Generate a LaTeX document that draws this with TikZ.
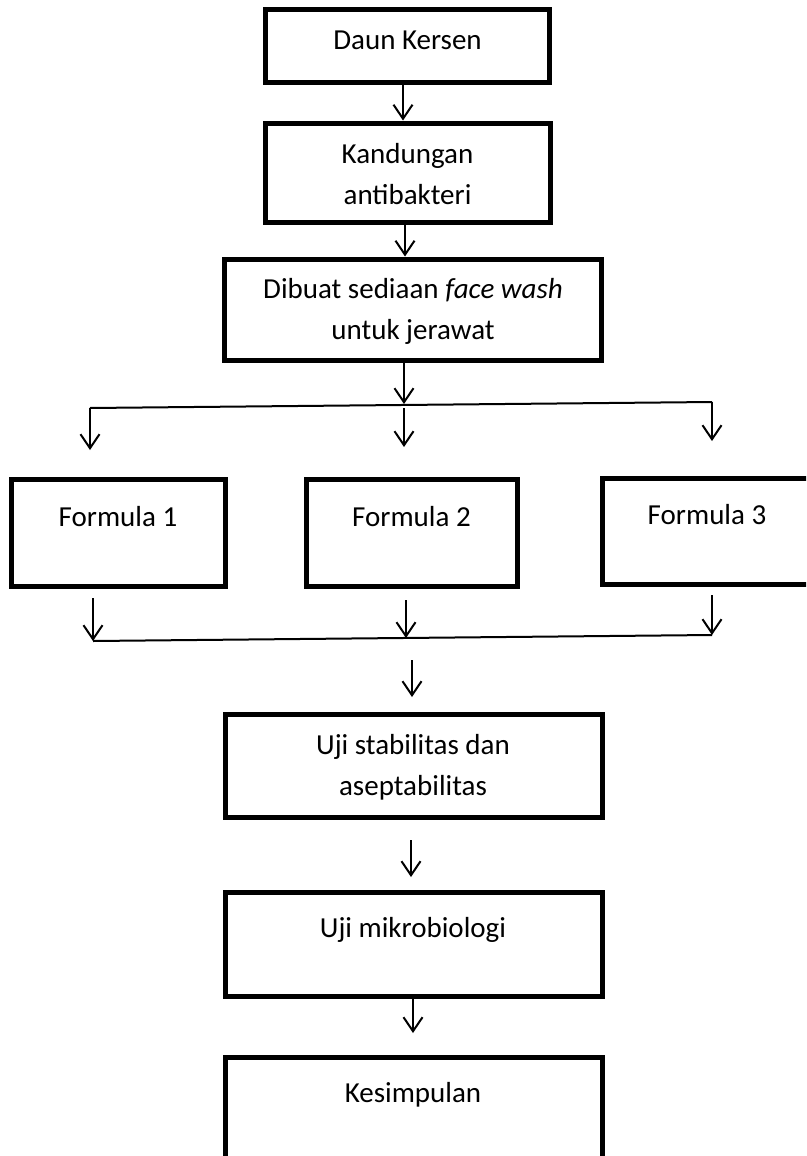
\documentclass[tikz,border=0pt]{standalone}
\usepackage{fontspec}
\setmainfont{Carlito}
\usetikzlibrary{arrows.meta}
\begin{document}
\begin{tikzpicture}[x=1pt,y=-1pt,
    box/.style={draw,line width=5pt,inner sep=0pt},
    txt/.style={anchor=base,align=center,inner sep=0pt,
        font=\fontsize{29}{41}\selectfont},
    flow/.style={line width=2pt,-{Straight Barb[length=14pt,width=19pt]}},
    bar/.style={line width=2pt}]
    \useasboundingbox (0,0) rectangle (806,1156);
    \clip (0,0) rectangle (806,1156);
    % upper chain
    \node[box,minimum width=284pt,minimum height=72pt] (daun) at (407,46) {};
    \node[txt] (tdaun) at (407.5,50) {Daun Kersen};
    \node[box,minimum width=285pt,minimum height=99pt] (kandungan) at (407.5,172.5) {};
    \node[txt] (tkandungan) at (407.5,204) {Kandungan\\antibakteri};
    \node[box,minimum width=377pt,minimum height=101pt] (sediaan) at (412.5,309.5) {};
    \node[txt] (tsediaan) at (413,339) {Dibuat sediaan \textit{face wash}\\untuk jerawat};
    \draw[flow] (daun.south -| 403,0) -- (kandungan.north -| 403,0);
    \draw[flow] (kandungan.south -| 405,0) -- (sediaan.north -| 405,0);
    % branching to the formulas
    \coordinate (split) at (404,404);
    \coordinate (topL) at (90,408);
    \coordinate (topM) at (404,408);
    \coordinate (topR) at (712,402);
    \coordinate (inL) at (90,450);
    \coordinate (inM) at (404,447);
    \coordinate (inR) at (712,441);
    \draw[flow] (sediaan.south -| split) -- (split);
    \draw[bar] (topL) -- (topR);
    \foreach \from/\to in {topL/inL,topM/inM,topR/inR}
        \draw[flow] (\from) -- (\to);
    \node[box,minimum width=214pt,minimum height=107pt] (formula1) at (118,532.5) {};
    \node[box,minimum width=211pt,minimum height=107pt] (formula2) at (411.5,532.5) {};
    \node[box,minimum width=210pt,minimum height=106pt] (formula3) at (707,531) {};
    \node[txt] (tformula1) at (118,526) {Formula 1};
    \node[txt] (tformula2) at (411.5,526) {Formula 2};
    \node[txt] (tformula3) at (707,524) {Formula 3};
    % joining the formulas
    \coordinate (outL) at (93,598);
    \coordinate (outM) at (406,600);
    \coordinate (outR) at (712,595);
    \coordinate (botL) at (93,641);
    \coordinate (botM) at (406,638);
    \coordinate (botR) at (712,635);
    \draw[bar] (botL) -- (botR);
    \foreach \from/\to in {outL/botL,outM/botM,outR/botR}
        \draw[flow] (\from) -- (\to);
    % lower chain
    \node[box,minimum width=377pt,minimum height=103pt] (stabilitas) at (413.5,765.5) {};
    \node[txt] (tstabilitas) at (413,795) {Uji stabilitas dan\\aseptabilitas};
    \node[box,minimum width=377pt,minimum height=104pt] (mikro) at (413.5,944) {};
    \node[txt] (tmikro) at (413,937) {Uji mikrobiologi};
    \node[box,minimum width=377pt,minimum height=113pt] (simpulan) at (413.5,1113.5) {};
    \node[txt] (tsimpulan) at (413,1102) {Kesimpulan};
    \coordinate (j1) at (412,660);
    \coordinate (j2) at (412,697);
    \coordinate (k1) at (411,840);
    \coordinate (k2) at (411,877);
    \coordinate (m2) at (413,1033);
    \draw[flow] (j1) -- (j2);
    \draw[flow] (k1) -- (k2);
    \draw[flow] (mikro.south -| m2) -- (m2);
\end{tikzpicture}
\end{document}
